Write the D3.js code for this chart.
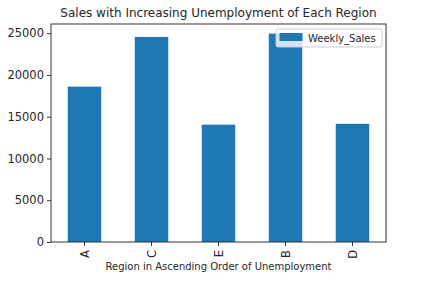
<!DOCTYPE html>
<html>
<head>
<meta charset="utf-8">
<script src="https://cdn.jsdelivr.net/npm/d3@7"></script>
<style>
  body { margin: 0; background: #fff; }
  text { font-family: "DejaVu Sans", sans-serif; fill: #262626; }
</style>
</head>
<body>
<div id="chart"></div>
<script>
// data
const regions = ["A", "C", "E", "B", "D"];
const weeklySales = [18600, 24550, 14050, 24950, 14150];
const yTicks = [0, 5000, 10000, 15000, 20000, 25000];
const seriesName = "Weekly_Sales";

const width = 438, height = 286;
const margin = { top: 24, right: 52, bottom: 44, left: 51 };
const innerW = width - margin.left - margin.right;
const innerH = height - margin.top - margin.bottom;
const barColor = "#1f77b4";

const svg = d3.select("#chart").append("svg")
  .attr("width", width)
  .attr("height", height);

const g = svg.append("g")
  .attr("transform", `translate(${margin.left},${margin.top})`);

const x = d3.scaleBand()
  .domain(regions)
  .range([0, innerW])
  .paddingInner(0.5)
  .paddingOuter(0.25);

const y = d3.scaleLinear()
  .domain([0, 26100])
  .range([innerH, 0]);

// bars
g.selectAll("rect.bar")
  .data(regions.map((r, i) => ({ region: r, value: weeklySales[i] })))
  .join("rect")
  .attr("class", "bar")
  .attr("x", d => x(d.region))
  .attr("y", d => y(d.value))
  .attr("width", x.bandwidth())
  .attr("height", d => innerH - y(d.value))
  .attr("fill", barColor);

// axes
const yAxis = g.append("g")
  .call(d3.axisLeft(y).tickValues(yTicks).tickSize(4).tickPadding(3).tickFormat(d3.format("d")));
yAxis.select(".domain").remove();
yAxis.selectAll("line").attr("stroke", "#333");
yAxis.selectAll("text").style("font-size", "11.5px").attr("fill", "#262626");

const xAxis = g.append("g")
  .attr("transform", `translate(0,${innerH})`)
  .call(d3.axisBottom(x).tickSize(4).tickPadding(3));
xAxis.select(".domain").remove();
xAxis.selectAll("line").attr("stroke", "#333");
xAxis.selectAll("text")
  .style("font-size", "11.5px")
  .attr("fill", "#262626")
  .attr("transform", "rotate(-90)")
  .attr("text-anchor", "end")
  .attr("dy", "0.35em")
  .attr("x", -8)
  .attr("y", 0);

// frame
g.append("rect")
  .attr("width", innerW)
  .attr("height", innerH)
  .attr("fill", "none")
  .attr("stroke", "#333")
  .attr("stroke-width", 1);

// title and axis label
svg.append("text")
  .attr("x", margin.left + innerW / 2)
  .attr("y", 17)
  .attr("text-anchor", "middle")
  .style("font-size", "12px")
  .text("Sales with Increasing Unemployment of Each Region");

svg.append("text")
  .attr("x", margin.left + innerW / 2)
  .attr("y", 270)
  .attr("text-anchor", "middle")
  .style("font-size", "10px")
  .text("Region in Ascending Order of Unemployment");

// legend
const legend = g.append("g").attr("transform", `translate(${innerW - 110},5)`);
legend.append("rect")
  .attr("width", 106)
  .attr("height", 18)
  .attr("rx", 2)
  .attr("fill", "#fff")
  .attr("fill-opacity", 0.8)
  .attr("stroke", "#ccc");
legend.append("rect")
  .attr("x", 3.5)
  .attr("y", 4)
  .attr("width", 23)
  .attr("height", 8)
  .attr("fill", barColor);
legend.append("text")
  .attr("x", 32)
  .attr("y", 13)
  .style("font-size", "10px")
  .text(seriesName);
</script>
</body>
</html>
